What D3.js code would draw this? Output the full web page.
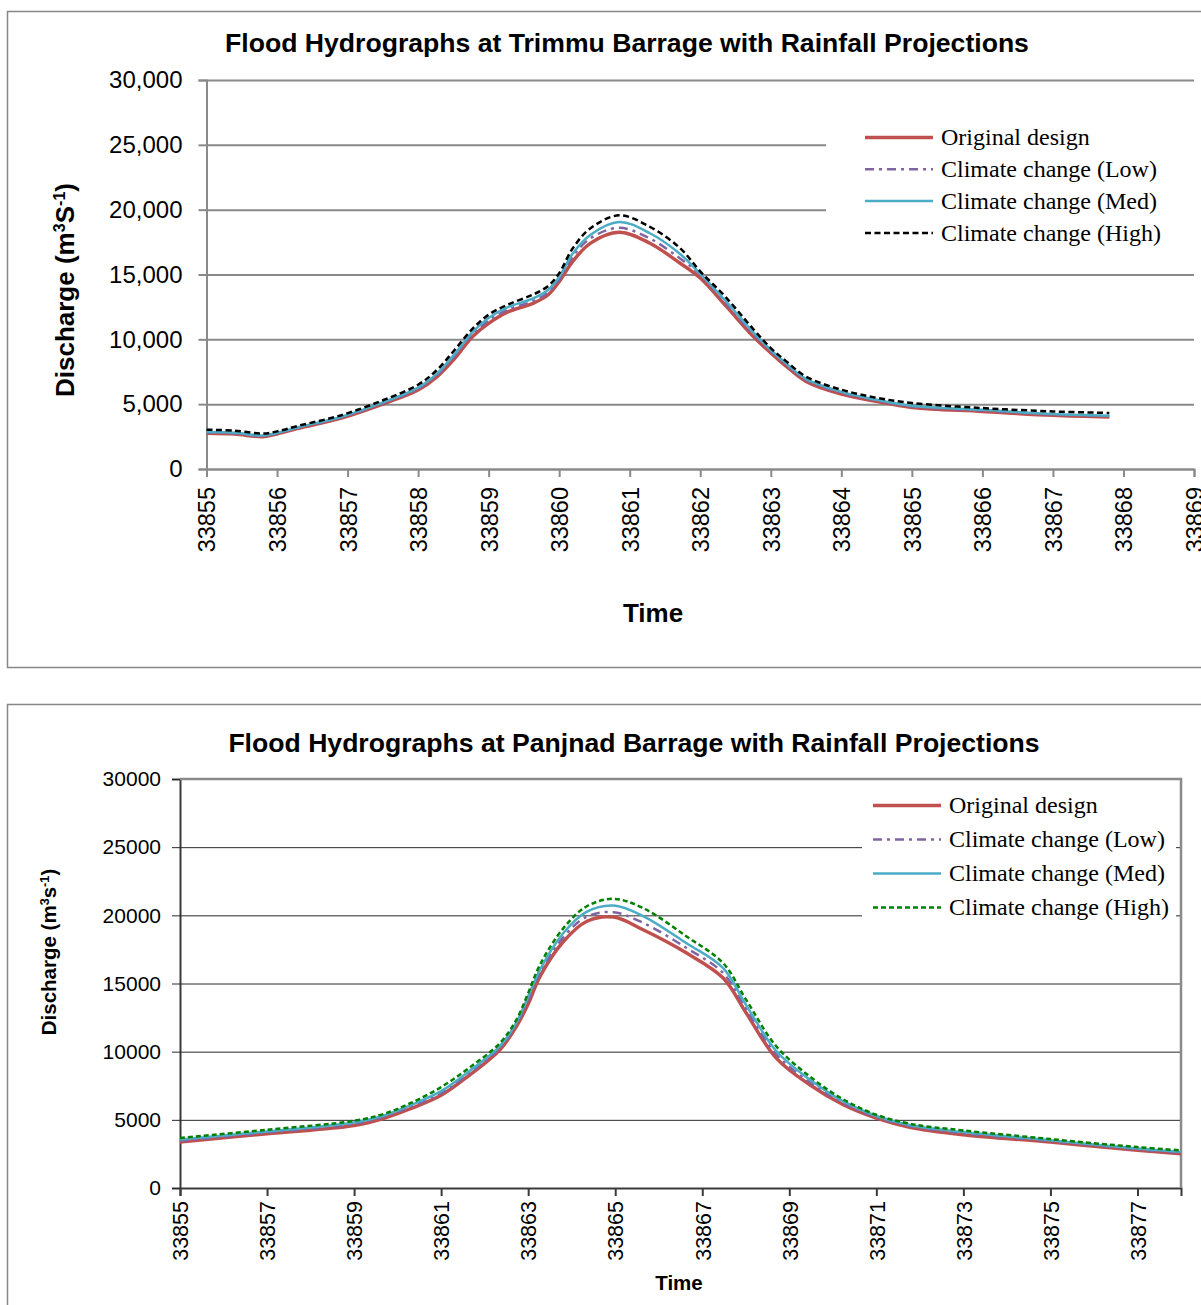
<!DOCTYPE html>
<html>
<head>
<meta charset="utf-8">
<script src="https://cdn.jsdelivr.net/npm/d3@7"></script>
<style>
body { margin: 0; background: #fff; }
svg { display: block; }
text { font-family: "Liberation Sans", Arial, sans-serif; fill: #000; }
.leg text { font-family: "Liberation Serif", "Times New Roman", serif; }
</style>
</head>
<body>
<svg id="chart" width="1201" height="1305"></svg>
<script>
// ---- data ----
const seriesNames = ["Original design", "Climate change (Low)", "Climate change (Med)", "Climate change (High)"];

// Trimmu Barrage
const trimmuTime = [33855, 33855.4, 33855.8, 33856, 33856.3, 33856.9, 33857.5, 33858, 33858.27, 33858.52,
  33858.77, 33859, 33859.28, 33859.63, 33859.84, 33860, 33860.19, 33860.44, 33860.85, 33861.28,
  33861.71, 33862, 33862.37, 33862.75, 33863, 33863.22, 33863.5, 33864, 33864.49, 33865,
  33866, 33867, 33867.8];
const trimmuOrig = [2750, 2690, 2490, 2700, 3140, 3910, 5010, 6090, 7120, 8530,
  10200, 11230, 12130, 12780, 13420, 14450, 15990, 17400, 18250, 17430,
  15890, 14730, 12540, 10230, 8950, 7920, 6760, 5780, 5220, 4750,
  4440, 4140, 4010];
const trimmuLow = [2800, 2740, 2540, 2740, 3180, 3960, 5070, 6180, 7250, 8720,
  10400, 11450, 12300, 12950, 13600, 14600, 16350, 17780, 18600, 17800,
  16250, 15000, 12750, 10400, 9080, 8040, 6870, 5870, 5290, 4820,
  4500, 4190, 4060];
const trimmuMed = [2850, 2790, 2580, 2790, 3220, 4010, 5140, 6280, 7380, 8880,
  10550, 11650, 12500, 13150, 13800, 14800, 16600, 18050, 19050, 18200,
  16600, 15050, 12900, 10550, 9180, 8130, 6950, 5950, 5360, 4880,
  4560, 4240, 4110];
const trimmuHigh = [3030, 2960, 2730, 2900, 3330, 4130, 5300, 6500, 7650, 9200,
  10800, 11900, 12700, 13450, 14100, 15100, 17000, 18550, 19560, 18700,
  17050, 15240, 13200, 10800, 9330, 8300, 7120, 6115, 5500, 5090,
  4700, 4440, 4320];
const trimmuXTicks = [33855, 33856, 33857, 33858, 33859, 33860, 33861, 33862, 33863, 33864, 33865, 33866, 33867, 33868, 33869];

// Panjnad Barrage
const panjnadTime = [33855, 33857, 33859, 33859.67, 33860.28, 33861, 33861.66, 33862.35, 33862.73, 33863,
  33863.27, 33863.81, 33864.34, 33864.96, 33865.64, 33866.64, 33867.48, 33868.01, 33868.7, 33869.47,
  33870.24, 33871, 33871.79, 33873, 33875, 33877, 33878];
const panjnadOrig = [3370, 3980, 4590, 5100, 5800, 6800, 8300, 10140, 11850, 13500,
  15510, 18080, 19550, 19870, 18940, 17230, 15400, 12830, 9530, 7570,
  6110, 5130, 4440, 3910, 3370, 2760, 2510];
const panjnadLow = [3450, 4060, 4700, 5200, 5930, 6950, 8450, 10270, 12000, 13800,
  15750, 18400, 19900, 20230, 19450, 17600, 15760, 13100, 9800, 7750,
  6230, 5200, 4520, 4000, 3430, 2830, 2580];
const panjnadMed = [3550, 4150, 4800, 5300, 6050, 7100, 8600, 10400, 12150, 14050,
  16000, 18700, 20250, 20720, 19950, 17950, 16130, 13400, 10050, 7950,
  6350, 5280, 4600, 4100, 3500, 2900, 2650];
const panjnadHigh = [3665, 4270, 4930, 5420, 6200, 7400, 8850, 10630, 12340, 14300,
  16370, 19060, 20650, 21210, 20530, 18450, 16490, 13800, 10400, 8180,
  6500, 5370, 4700, 4220, 3590, 3000, 2760];
const panjnadXTicks = [33855, 33857, 33859, 33861, 33863, 33865, 33867, 33869, 33871, 33873, 33875, 33877];

const yTicks = [0, 5000, 10000, 15000, 20000, 25000, 30000];

// ---- drawing ----
const svg = d3.select("#chart");

function drawChart(o) {
  const g = svg.append("g");
  const x = d3.scaleLinear().domain(o.xDomain).range(o.xRange);
  const y = d3.scaleLinear().domain([0, 30000]).range(o.yRange);
  const w = o.xRange[1] - o.xRange[0];

  // outer frame (right/bottom edges run off the picture)
  g.append("path")
    .attr("d", o.framePath)
    .attr("fill", "none").attr("stroke", "#878787").attr("stroke-width", 1.5);

  // title
  g.append("text").attr("x", o.titleX).attr("y", o.titleY)
    .attr("text-anchor", "middle").attr("font-weight", "bold")
    .attr("font-size", 26.6).text(o.title);

  // gridlines + y ticks
  const ya = g.append("g").attr("transform", `translate(${o.xRange[0]},0)`)
    .call(d3.axisLeft(y).tickValues(yTicks).tickSize(8).tickPadding(o.yPad).tickFormat(o.yFmt));
  ya.select(".domain").attr("stroke", o.axisColor).attr("stroke-width", 2);
  ya.selectAll(".tick line").attr("stroke", o.gridColor).attr("stroke-width", o.gridWidth);
  ya.selectAll(".tick").append("line")
    .attr("x2", w).attr("stroke", o.gridColor).attr("stroke-width", o.gridWidth);
  ya.selectAll("text").attr("font-size", o.yFont).attr("font-family", "Liberation Sans, Arial, sans-serif");

  // x axis
  const xa = g.append("g").attr("transform", `translate(0,${o.yRange[0]})`)
    .call(d3.axisBottom(x).tickValues(o.xTicks).tickSize(8).tickFormat(d3.format("d")));
  xa.select(".domain").attr("stroke", o.axisColor).attr("stroke-width", 2);
  xa.selectAll(".tick line").attr("stroke", o.axisColor).attr("stroke-width", 2);
  xa.selectAll("text")
    .attr("transform", "rotate(-90)")
    .attr("x", -o.xLabOff).attr("y", 0).attr("dy", "0.36em")
    .attr("text-anchor", "end")
    .attr("font-size", o.xFont).attr("font-family", "Liberation Sans, Arial, sans-serif");

  if (o.plotBorder) {
    g.append("path")
      .attr("d", `M${o.xRange[0]},${o.yRange[1]}H${o.xRange[1]}V${o.yRange[0]}`)
      .attr("fill", "none").attr("stroke", "#8a8a8a").attr("stroke-width", 2.5);
  }

  // legend background box
  g.append("rect").attr("x", o.legBox[0]).attr("y", o.legBox[1])
    .attr("width", o.legBox[2]).attr("height", o.legBox[3]).attr("fill", "#fff");

  // series
  const line = d3.line()
    .x((d, i) => x(o.time[i]))
    .y(d => y(d))
    .curve(d3.curveCatmullRom.alpha(0.5));
  o.series.forEach((vals, k) => {
    const s = o.styles[k];
    g.append("path").datum(vals)
      .attr("d", line)
      .attr("fill", "none")
      .attr("stroke", s.color).attr("stroke-width", s.width)
      .attr("stroke-dasharray", s.dash || null);
  });

  // legend
  const leg = g.append("g").attr("class", "leg");
  seriesNames.forEach((name, k) => {
    const s = o.styles[k];
    const ly = o.legY + k * o.legStep;
    leg.append("line")
      .attr("x1", o.legX).attr("x2", o.legX + 68).attr("y1", ly).attr("y2", ly)
      .attr("stroke", s.color).attr("stroke-width", s.width)
      .attr("stroke-dasharray", s.dash || null);
    leg.append("text").attr("x", o.legX + 76).attr("y", ly).attr("dy", "0.33em")
      .attr("font-size", 24).text(name);
  });

  // axis titles
  g.append("text").attr("x", o.timeX).attr("y", o.timeY)
    .attr("text-anchor", "middle").attr("font-weight", "bold")
    .attr("font-size", o.timeFont).text("Time");

  const yt = g.append("text")
    .attr("transform", `translate(${o.yTitleX},${o.yTitleY}) rotate(-90)`)
    .attr("text-anchor", "middle").attr("font-weight", "bold")
    .attr("font-size", o.yTitleFont);
  yt.append("tspan").text("Discharge (m");
  yt.append("tspan").attr("baseline-shift", "super").attr("font-size", "62%").text("3");
  yt.append("tspan").text(o.sLetter);
  yt.append("tspan").attr("baseline-shift", "super").attr("font-size", "62%").text("-1");
  yt.append("tspan").text(")");
}

const baseStyles = [
  { color: "#C0504D", width: 3.5 },
  { color: "#8064A2", width: 2.5, dash: "9,5,3,5" },
  { color: "#4BACC6", width: 2.5 }
];

drawChart({
  title: "Flood Hydrographs at Trimmu Barrage with Rainfall Projections",
  titleX: 627, titleY: 52,
  framePath: "M1210,11.5H7.5V667.5H1210",
  xDomain: [33855, 33869], xRange: [206.5, 1194],
  yRange: [469, 80],
  xTicks: trimmuXTicks,
  yFmt: d3.format(","), yPad: 16, yFont: 24,
  xFont: 23.5, xLabOff: 18,
  axisColor: "#8a8a8a", gridColor: "#8a8a8a", gridWidth: 2,
  plotBorder: false,
  legBox: [826, 116, 380, 134],
  legX: 865, legY: 137.5, legStep: 31.8,
  time: trimmuTime,
  series: [trimmuOrig, trimmuLow, trimmuMed, trimmuHigh],
  styles: baseStyles.concat([{ color: "#000", width: 2.5, dash: "6,3.5" }]),
  timeX: 653, timeY: 622, timeFont: 26,
  yTitleX: 74, yTitleY: 290, yTitleFont: 26, sLetter: "S"
});

drawChart({
  title: "Flood Hydrographs at Panjnad Barrage with Rainfall Projections",
  titleX: 634, titleY: 752,
  framePath: "M1210,704.5H7.5V1310",
  xDomain: [33855, 33878], xRange: [180, 1181],
  yRange: [1188, 779],
  xTicks: panjnadXTicks,
  yFmt: d3.format("d"), yPad: 11, yFont: 21,
  xFont: 21.5, xLabOff: 13,
  axisColor: "#3a3a3a", gridColor: "#2a2a2a", gridWidth: 1,
  plotBorder: true,
  legBox: [862, 786, 314, 140],
  legX: 873, legY: 805.5, legStep: 34,
  time: panjnadTime,
  series: [panjnadOrig, panjnadLow, panjnadMed, panjnadHigh],
  styles: baseStyles.concat([{ color: "#008000", width: 2.5, dash: "5,3" }]),
  timeX: 679, timeY: 1290, timeFont: 20.5,
  yTitleX: 56, yTitleY: 952, yTitleFont: 20.5, sLetter: "s"
});
</script>
</body>
</html>
